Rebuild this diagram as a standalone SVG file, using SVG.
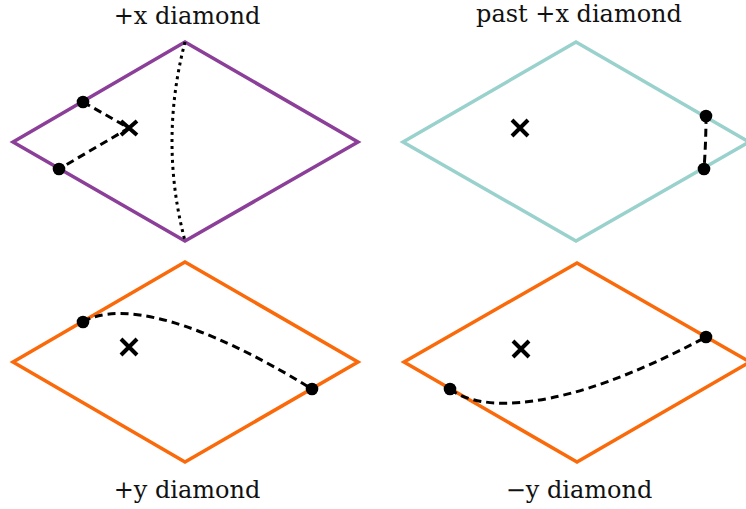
<svg xmlns="http://www.w3.org/2000/svg" width="746" height="509" viewBox="0 0 746 509">
<style>
.d{fill:none;stroke-width:3.5;stroke-linejoin:miter}
.purple{stroke:#8C3F99}
.teal{stroke:#99D1CC}
.orange{stroke:#FA6A0A}
.dash{fill:none;stroke:#000;stroke-width:3;stroke-dasharray:8 5}
.dot{fill:none;stroke:#000;stroke-width:3;stroke-dasharray:3 4}
.pt{fill:#000}
.x{stroke:#000;stroke-width:4;fill:none}
.lbl{font-family:"DejaVu Serif","Liberation Serif",serif;font-size:24px;fill:#111;text-anchor:middle}
</style>
<rect width="746" height="509" fill="#fff"/>
<g id="plus-x">
<polygon class="d purple" points="13,142 185,42 358,142 185,241"/>
<path class="x" d="M121,121 L137,135 M137,121 L121,135"/>
<text class="lbl" x="187" y="24">+x diamond</text>
</g>
<g id="past-plus-x">
<polygon class="d teal" points="403,142 576,42 749,142 576,241"/>
<path class="x" d="M512,120 L528,136 M528,120 L512,136"/>
<text class="lbl" x="579" y="22">past +x diamond</text>
</g>
<g id="plus-y">
<polygon class="d orange" points="13,362 185,262 358,362 185,462"/>
<path class="x" d="M121,339 L137,355 M137,339 L121,355"/>
<text class="lbl" x="187" y="498">+y diamond</text>
</g>
<g id="minus-y">
<polygon class="d orange" points="404,362 577,263 750,362 577,462"/>
<path class="x" d="M513,341 L529,357 M529,341 L513,357"/>
<text class="lbl" x="579" y="498">−y diamond</text>
</g>
<g id="connectors">
<path class="dot" d="M185,42 Q159,142 185,241"/>
<path class="dash" d="M83,102 L129,128 L59,169"/>
<path class="dash" d="M706,116 Q706,142 704,169"/>
<path class="dash" d="M83,322 C120,300 200,320 312,389"/>
<path class="dash" d="M450,389 C480,412 560,415 706,337"/>
<circle class="pt" cx="83" cy="102" r="6.3"/>
<circle class="pt" cx="59" cy="169" r="6.3"/>
<circle class="pt" cx="706" cy="116" r="6.3"/>
<circle class="pt" cx="704" cy="169" r="6.3"/>
<circle class="pt" cx="83" cy="322" r="6.3"/>
<circle class="pt" cx="312" cy="389" r="6.3"/>
<circle class="pt" cx="450" cy="389" r="6.3"/>
<circle class="pt" cx="706" cy="337" r="6.3"/>
</g>
</svg>
